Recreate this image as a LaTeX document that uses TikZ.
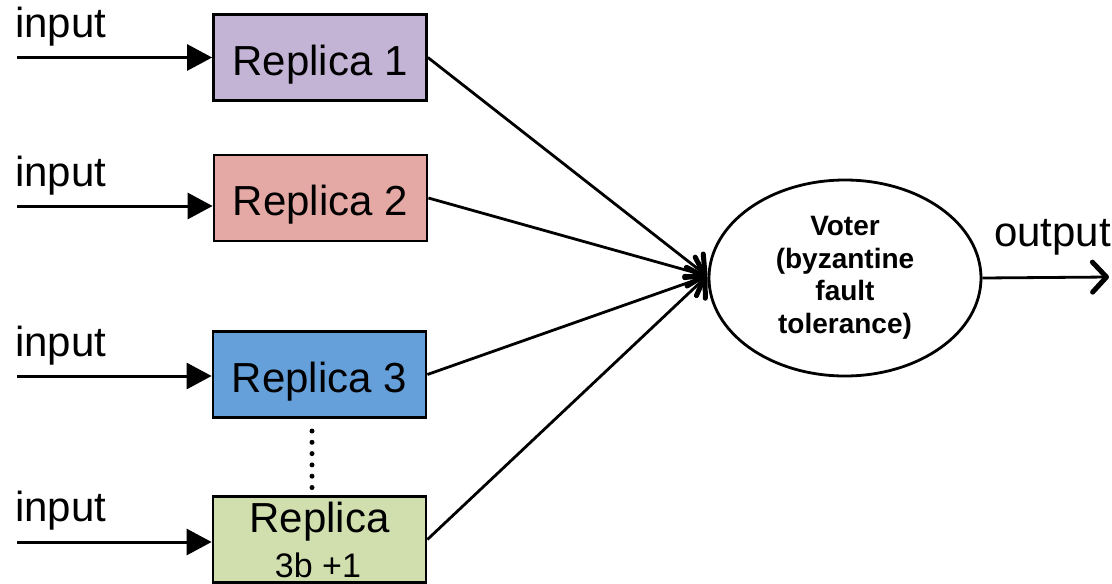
\documentclass[tikz,border=0pt]{standalone}
\usepackage{fontspec}
\setmainfont{Liberation Sans}
\usetikzlibrary{arrows.meta,shapes.geometric}

\definecolor{repA}{HTML}{C3B3D5}
\definecolor{repB}{HTML}{E4A8A5}
\definecolor{repC}{HTML}{65A0DB}
\definecolor{repD}{HTML}{D1DFAF}

\tikzset{
  replica/.style={draw=black, line width=2.8pt, minimum width=213pt,
    minimum height=86pt, inner sep=0pt, text height=35pt, text depth=0pt,
    font=\fontsize{42}{48}\selectfont},
  lbl/.style={inner sep=0pt, anchor=base west, font=\fontsize{42}{48}\selectfont},
  feed/.style={line width=3pt, -{Triangle[length=25pt,width=26pt]}},
  vote/.style={line width=2.8pt, -{Straight Barb[length=14pt,width=30pt,line width=5pt,round]}},
  dots/.style={line width=5pt, line cap=round, dash pattern=on 0pt off 11.3pt}
}

\begin{document}
\begin{tikzpicture}[x=1pt,y=-1pt]
\useasboundingbox (0,0) rectangle (1112,584);
\clip (0,0) rectangle (1112,584);

% replica boxes
\node[replica, fill=repA] (r1) at (320,57.5) {Replica 1};
\node[replica, fill=repB] (r2) at (320.5,198) {Replica 2};
\node[replica, fill=repC] (r3) at (319.5,374.5) {Replica 3};
\node[replica, fill=repD] (r4) at (319.5,539.5) {};
\node[inner sep=0pt, anchor=base, font=\fontsize{42}{48}\selectfont] (r4a) at (319.5,532) {Replica};
\node[inner sep=0pt, anchor=base, text depth=0pt, font=\fontsize{34}{40}\selectfont] (r4b) at (318,577) {3b +1};

% voter
\node[ellipse, draw=black, line width=2.8pt, minimum width=272pt, minimum height=196pt,
      inner sep=0pt, align=center, font=\bfseries\fontsize{28}{32.5}\selectfont]
      (voter) at (845,278) {Voter\\(byzantine\\fault\\tolerance)};

% inputs
\coordinate (i1) at (17,57.5);
\coordinate (i2) at (17,206);
\coordinate (i3) at (17,376);
\coordinate (i4) at (17,542);
\node[lbl] (t1) at (15,37.5) {input};
\node[lbl] (t2) at (15,186) {input};
\node[lbl] (t3) at (15,356) {input};
\node[lbl] (t4) at (15,521) {input};
\draw[feed] (i1) -- (i1 -| r1.west);
\draw[feed] (i2) -- (i2 -| r2.west);
\draw[feed] (i3) -- (i3 -| r3.west);
\draw[feed] (i4) -- (i4 -| r4.west);

% replicas to voter
\coordinate (vin) at (707,276);
\draw[vote] (r1.east) -- (vin);
\draw[vote] (r2.east) -- (vin);
\draw[vote] (r3.east) -- (vin);
\draw[vote] (r4.east) -- (vin);

% elided replicas
\coordinate (d1) at (312,431);
\coordinate (d2) at (312,487.5);
\draw[dots] (d1) -- (d2);

% output
\coordinate (out) at (1109,277);
\draw[vote] (voter.east) -- (out);
\node[lbl] (tout) at (994,246) {output};
\end{tikzpicture}
\end{document}
